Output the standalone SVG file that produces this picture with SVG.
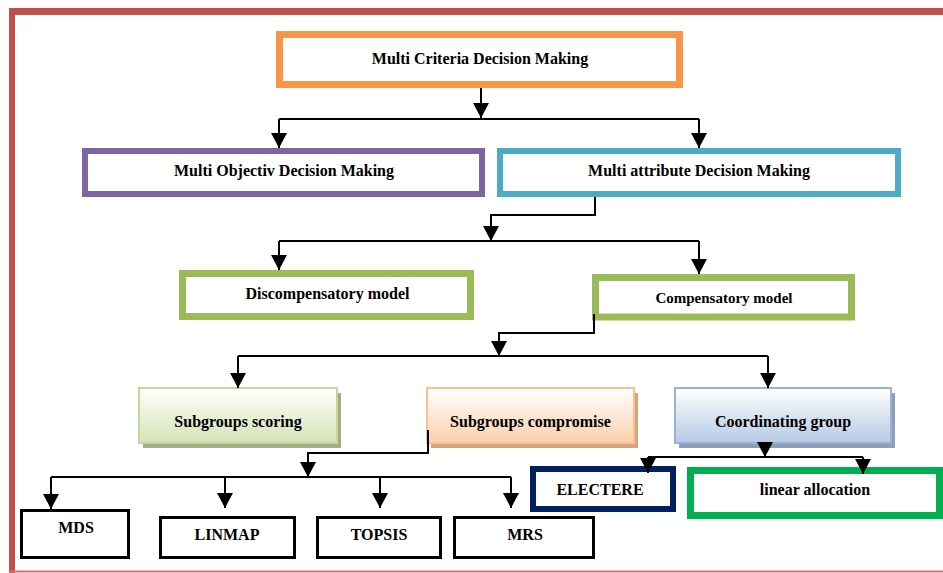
<svg xmlns="http://www.w3.org/2000/svg" width="943" height="573" viewBox="0 0 943 573">
  <style>
    text { font-family: "Liberation Serif", "Times New Roman", serif; font-weight: bold; font-size: 16px; fill: #000; text-anchor: middle; }
    .box { fill: #fff; }
    .conn { fill: none; stroke: #000; stroke-width: 2; }
    .arr { marker-end: url(#ah); }
  </style>
  <defs>
    <marker id="ah" viewBox="0 0 15 16" refX="15" refY="8" markerWidth="15" markerHeight="16" markerUnits="userSpaceOnUse" orient="auto">
      <path d="M0,0 L15,8 L0,16 z" fill="#000"/>
    </marker>
    <linearGradient id="gGreen" x1="0" y1="0" x2="0" y2="1">
      <stop offset="0" stop-color="#ffffff"/>
      <stop offset="1" stop-color="#d4e2b6"/>
    </linearGradient>
    <linearGradient id="gOrange" x1="0" y1="0" x2="0" y2="1">
      <stop offset="0" stop-color="#ffffff"/>
      <stop offset="1" stop-color="#fbd0ac"/>
    </linearGradient>
    <linearGradient id="gBlue" x1="0" y1="0" x2="0" y2="1">
      <stop offset="0" stop-color="#ffffff"/>
      <stop offset="1" stop-color="#b6cae3"/>
    </linearGradient>
  </defs>

  <rect x="0" y="0" width="943" height="573" fill="#fff"/>

  <!-- frame -->
  <g id="frame">
    <rect x="9" y="8" width="934" height="7" fill="#c0504d"/>
    <rect x="9" y="8" width="6" height="565" fill="#c0504d"/>
    <line x1="9" y1="571.5" x2="943" y2="571.5" stroke="#d8706c" stroke-width="2"/>
  </g>

  <!-- nodes -->
  <g id="mcdm">
    <rect class="box" x="279.5" y="34.5" width="400" height="50" stroke="#f79646" stroke-width="7"/>
    <text x="480" y="64">Multi Criteria Decision Making</text>
  </g>
  <g id="modm">
    <rect class="box" x="85" y="151" width="397" height="43" stroke="#8064a2" stroke-width="6"/>
    <text x="284" y="176">Multi Objectiv Decision Making</text>
  </g>
  <g id="madm">
    <rect class="box" x="500" y="151" width="398" height="43" stroke="#4bacc6" stroke-width="6"/>
    <text x="699" y="176">Multi attribute Decision Making</text>
  </g>
  <g id="discomp">
    <rect class="box" x="182.5" y="273.5" width="288" height="43" stroke="#9bbb59" stroke-width="7"/>
    <text x="327.5" y="299">Discompensatory model</text>
  </g>
  <g id="comp">
    <rect class="box" x="595.5" y="277.5" width="256" height="39.5" stroke="#9bbb59" stroke-width="7"/>
    <text x="724" y="303" style="font-size:15px">Compensatory model</text>
  </g>
  <g id="scoring">
    <rect x="143" y="393" width="198" height="55" fill="#a3ad88"/>
    <rect x="139" y="388" width="198" height="55" fill="url(#gGreen)" stroke="#c3d69b" stroke-width="2"/>
    <text x="238" y="427">Subgroups scoring</text>
  </g>
  <g id="compromise">
    <rect x="431" y="393" width="207" height="55" fill="#d2a481"/>
    <rect x="427" y="388" width="207" height="55" fill="url(#gOrange)" stroke="#fac090" stroke-width="2"/>
    <text x="530.5" y="427">Subgroups compromise</text>
  </g>
  <g id="coordinating">
    <rect x="679" y="393" width="216" height="55" fill="#909eb5"/>
    <rect x="675" y="388" width="216" height="55" fill="url(#gBlue)" stroke="#95b3d7" stroke-width="2"/>
    <text x="783" y="427">Coordinating group</text>
  </g>
  <g id="electere">
    <rect class="box" x="533" y="469" width="140" height="40" stroke="#002060" stroke-width="6"/>
    <text x="600" y="495">ELECTERE</text>
  </g>
  <g id="linear">
    <rect class="box" x="690.5" y="470.5" width="249" height="45" stroke="#00b050" stroke-width="7"/>
    <text x="815" y="495">linear allocation</text>
  </g>
  <g id="mds">
    <rect class="box" x="21.5" y="510.5" width="107" height="47" stroke="#000" stroke-width="3"/>
    <text x="76" y="533">MDS</text>
  </g>
  <g id="linmap">
    <rect class="box" x="160.5" y="517.5" width="134" height="40" stroke="#000" stroke-width="3"/>
    <text x="227" y="540">LINMAP</text>
  </g>
  <g id="topsis">
    <rect class="box" x="317.5" y="517.5" width="123" height="40" stroke="#000" stroke-width="3"/>
    <text x="379" y="540">TOPSIS</text>
  </g>
  <g id="mrs">
    <rect class="box" x="454.5" y="517.5" width="139" height="40" stroke="#000" stroke-width="3"/>
    <text x="525" y="540">MRS</text>
  </g>

  <!-- connectors -->
  <g id="connectors">
    <path class="conn arr" d="M481,88 V118"/>
    <path class="conn" d="M279,119 H699"/>
    <path class="conn arr" d="M279,119 V148"/>
    <path class="conn arr" d="M699,119 V148"/>

    <path class="conn arr" d="M595,197 V215 H491 V241"/>
    <path class="conn" d="M279,241 H699"/>
    <path class="conn arr" d="M279,241 V270"/>
    <path class="conn arr" d="M699,241 V274"/>

    <path class="conn arr" d="M594,314 V333 H499 V356"/>
    <path class="conn" d="M238,356 H768"/>
    <path class="conn arr" d="M238,356 V388"/>
    <path class="conn arr" d="M768,356 V388"/>

    <path class="conn arr" d="M428,430 V453 H308 V477"/>
    <path class="conn" d="M51,477 H511"/>
    <path class="conn arr" d="M51,477 V509"/>
    <path class="conn arr" d="M225,477 V508"/>
    <path class="conn arr" d="M380,477 V508"/>
    <path class="conn arr" d="M511,477 V508"/>

    <path class="conn arr" d="M765,443 V457"/>
    <path class="conn" d="M648,457 H863"/>
    <path class="conn arr" d="M648,457 V473"/>
    <path class="conn arr" d="M863,457 V474"/>
  </g>
</svg>
